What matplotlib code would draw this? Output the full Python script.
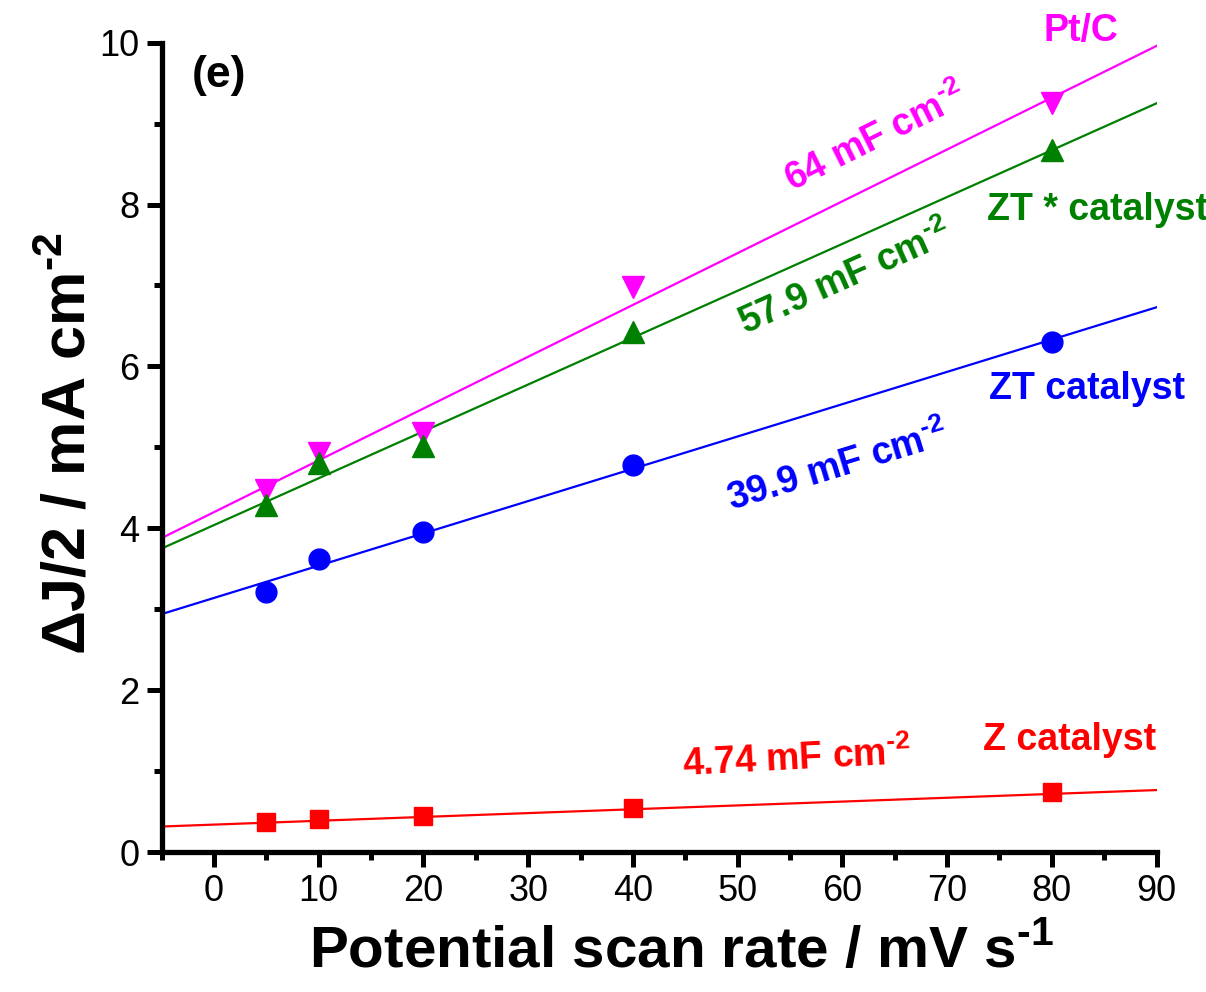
import matplotlib
matplotlib.use("Agg")
import matplotlib.pyplot as plt
import numpy as np

# dados
scan_rate = [5, 10, 20, 40, 80]
ptc = [4.47, 4.93, 5.18, 6.98, 9.25]
zt_star = [4.29, 4.81, 5.02, 6.42, 8.68]
zt = [3.21, 3.62, 3.96, 4.78, 6.30]
z = [0.37, 0.41, 0.45, 0.54, 0.74]

# ajustes lineares (inclinacao em mA cm-2 por mV s-1, intercepto)
slopes = [0.064, 0.0579, 0.0399, 0.00474]
intercepts = [4.20, 4.04, 3.14, 0.34]

plt.rcParams['font.family'] = ['Liberation Sans', 'DejaVu Sans']
plt.rcParams['mathtext.fontset'] = 'custom'
plt.rcParams['mathtext.rm'] = 'Liberation Sans:bold'
plt.rcParams['mathtext.bf'] = 'Liberation Sans:bold'

fig = plt.figure(figsize=(12.06, 9.92), dpi=100)
ax = fig.add_axes([0.134, 0.141, 0.825, 0.816])

series = [ptc, zt_star, zt, z]
colors = ['#ff00ff', '#008000', '#0000ff', '#ff0000']
markers = ['v', '^', 'o', 's']
sizes = [16.5, 16.5, 15, 13]

xfit = np.array([-5, 90])
for ys, c, m, s, k, b in zip(series, colors, markers, sizes, slopes, intercepts):
    ax.plot(scan_rate, ys, linestyle='none', marker=m, markersize=s, color=c, zorder=3)
    ax.plot(xfit, k * xfit + b, color=c, linewidth=1.6, zorder=2)

ax.set_xlim(-5, 90)
ax.set_ylim(0, 10)
ax.set_xticks(range(0, 91, 10))
ax.set_xticks(range(-5, 91, 10), minor=True)
ax.set_yticks(range(0, 11, 2))
ax.set_yticks(range(1, 11, 2), minor=True)

for sp in ['top', 'right']:
    ax.spines[sp].set_visible(False)
for sp in ['left', 'bottom']:
    ax.spines[sp].set_linewidth(3.8)

ax.tick_params(which='major', direction='out', length=11, width=3.6, labelsize=26, pad=5)
ax.tick_params(which='minor', direction='out', length=5.5, width=3.6)

ax.set_xlabel(r'Potential scan rate / mV s$^{\text{-1}}$', fontsize=42, fontweight='bold')
ax.xaxis.set_label_coords(0.523, -0.09)
ax.set_ylabel(r'ΔJ/2 / mA cm$^{\text{-2}}$', fontsize=44, fontweight='bold')
ax.yaxis.set_label_coords(-0.063, 0.505)

tfont = dict(fontsize=27, fontweight='bold', ha='center', va='center')
ax.text(0.5, 9.6, '(e)', fontsize=32, fontweight='bold', ha='center', va='center')

ax.text(82.8, 10.15, 'Pt/C', color=colors[0], clip_on=False, **tfont)
ax.text(84.4, 7.93, 'ZT * catalyst', color=colors[1], **tfont)
ax.text(83.4, 5.72, 'ZT catalyst', color=colors[2], **tfont)
ax.text(81.7, 1.39, 'Z catalyst', color=colors[3], **tfont)

ax.text(63.2, 8.82, r'64 mF cm$^{\text{-2}}$', color=colors[0], rotation=26.5, **tfont)
ax.text(60.3, 7.08, r'57.9 mF cm$^{\text{-2}}$', color=colors[1], rotation=24, **tfont)
ax.text(59.6, 4.76, r'39.9 mF cm$^{\text{-2}}$', color=colors[2], rotation=17, **tfont)
ax.text(55.6, 1.15, r'4.74 mF cm$^{\text{-2}}$', color=colors[3], rotation=3, **tfont)

fig.savefig('out.png', dpi=100)
